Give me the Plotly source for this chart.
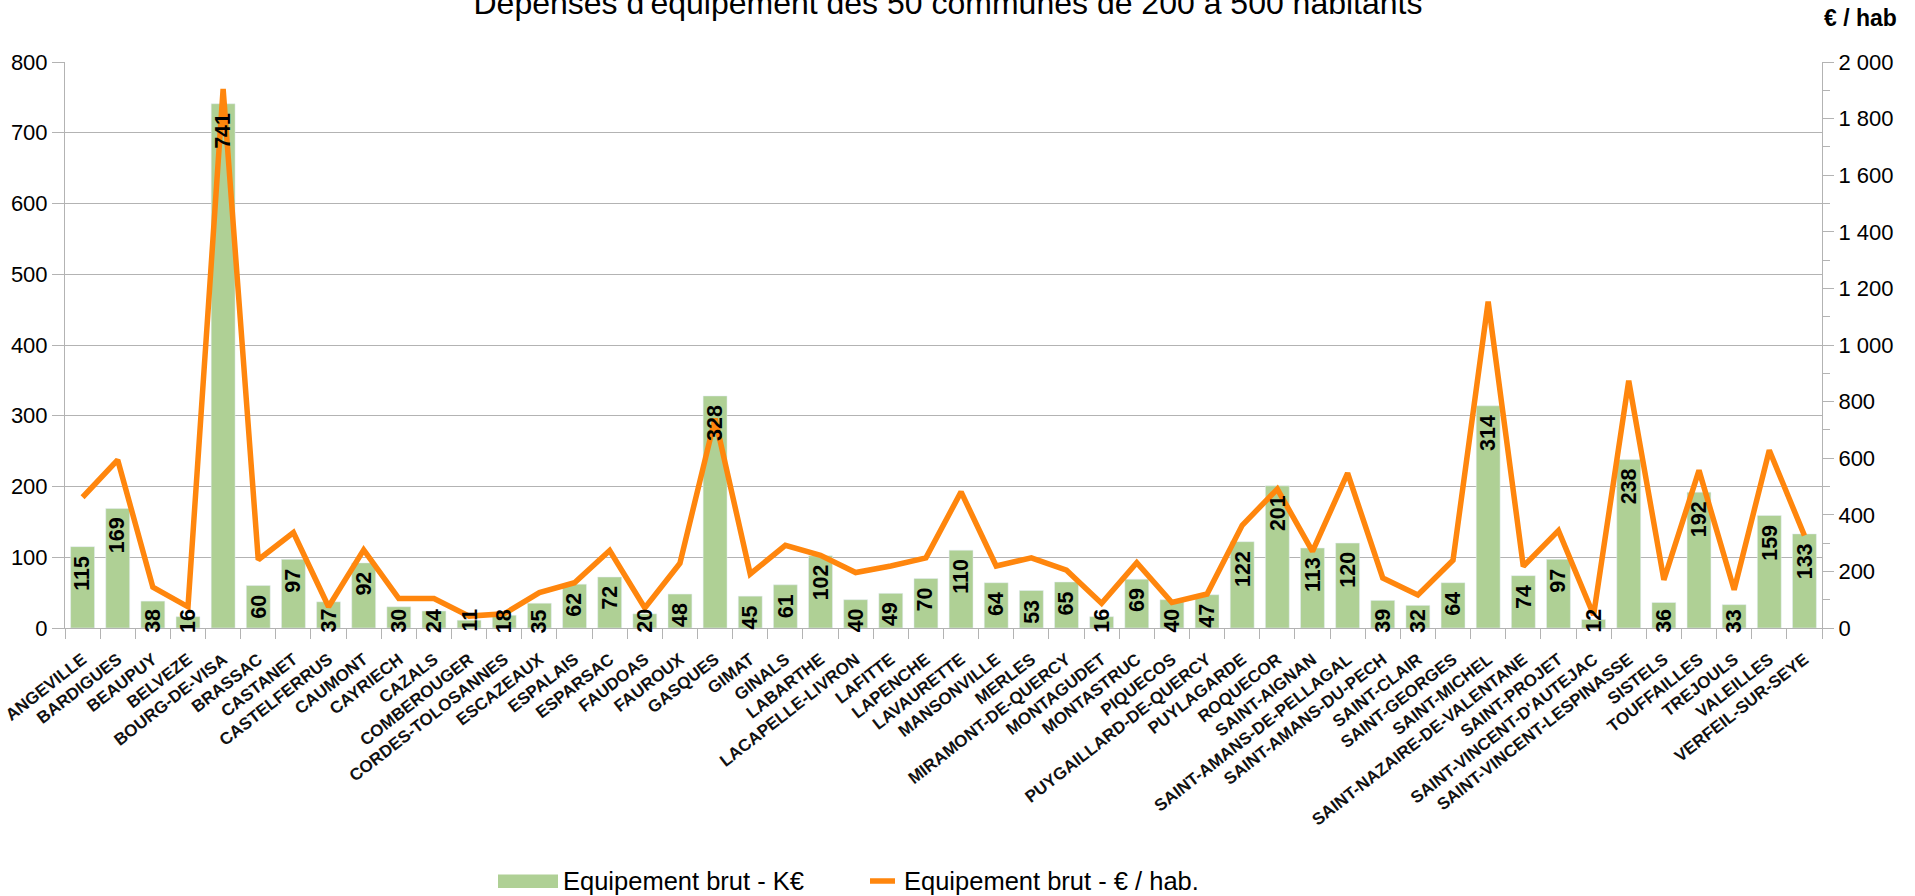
import plotly.graph_objects as go

communes = ["ANGEVILLE", "BARDIGUES", "BEAUPUY", "BELVEZE", "BOURG-DE-VISA", "BRASSAC", "CASTANET",
            "CASTELFERRUS", "CAUMONT", "CAYRIECH", "CAZALS", "COMBEROUGER", "CORDES-TOLOSANNES",
            "ESCAZEAUX", "ESPALAIS", "ESPARSAC", "FAUDOAS", "FAUROUX", "GASQUES", "GIMAT", "GINALS",
            "LABARTHE", "LACAPELLE-LIVRON", "LAFITTE", "LAPENCHE", "LAVAURETTE", "MANSONVILLE",
            "MERLES", "MIRAMONT-DE-QUERCY", "MONTAGUDET", "MONTASTRUC", "PIQUECOS",
            "PUYGAILLARD-DE-QUERCY", "PUYLAGARDE", "ROQUECOR", "SAINT-AIGNAN",
            "SAINT-AMANS-DE-PELLAGAL", "SAINT-AMANS-DU-PECH", "SAINT-CLAIR", "SAINT-GEORGES",
            "SAINT-MICHEL", "SAINT-NAZAIRE-DE-VALENTANE", "SAINT-PROJET", "SAINT-VINCENT-D'AUTEJAC",
            "SAINT-VINCENT-LESPINASSE", "SISTELS", "TOUFFAILLES", "TREJOULS", "VALEILLES",
            "VERFEIL-SUR-SEYE"]

equip_keur = [115, 169, 38, 16, 741, 60, 97, 37, 92, 30, 24, 11, 18, 35, 62, 72, 20, 48, 328, 45,
              61, 102, 40, 49, 70, 110, 64, 53, 65, 16, 69, 40, 47, 122, 201, 113, 120, 39, 32, 64,
              314, 74, 97, 12, 238, 36, 192, 33, 159, 133]

equip_hab = [462, 594, 144, 75, 1905, 241, 337, 75, 276, 104, 104, 42, 50, 125, 160, 274, 71, 229,
             740, 191, 292, 257, 196, 219, 248, 481, 219, 248, 204, 87, 231, 90, 120, 363, 491, 271,
             547, 177, 117, 240, 1153, 218, 344, 46, 874, 170, 557, 135, 628, 327]

left_ticks = [0, 100, 200, 300, 400, 500, 600, 700, 800]
right_ticks = [0, 200, 400, 600, 800, 1000, 1200, 1400, 1600, 1800, 2000]
right_tick_text = ["0", "200", "400", "600", "800", "1 000", "1 200", "1 400", "1 600", "1 800", "2 000"]

title_text = "Dépenses d'équipement des 50 communes de 200 à 500 habitants"
right_axis_title = "€ / hab"
legend_bar = "Equipement brut - K€"
legend_line = "Equipement brut - € / hab."

BAR_COLOR = "#AFD095"
LINE_COLOR = "#FF860D"
GRID = "#B3B3B3"
FONT = "Liberation Sans"

W, H = 1915, 896
ML, MR, MT, MB = 65, 93, 62, 268
PW = W - ML - MR
PH = H - MT - MB


def px_x(px):
    return (px - ML) / PW


def px_y(py):
    return (H - MB - py) / PH


fig = go.Figure()
fig.add_trace(go.Bar(x=communes, y=equip_keur, marker_color=BAR_COLOR, name=legend_bar,
                     showlegend=False, yaxis="y"))
fig.add_trace(go.Scatter(x=communes, y=equip_hab, mode="lines", name=legend_line,
                         line=dict(color=LINE_COLOR, width=5.5), showlegend=False, yaxis="y2"))

annotations = []
units_per_px = 800 / PH
for c, v in zip(communes, equip_keur):
    ytop = max(v - 7 * units_per_px, 21 * units_per_px)
    annotations.append(dict(x=c, y=ytop, xref="x", yref="y", text=str(v), textangle=-90,
                            showarrow=False, yanchor="top", xanchor="center",
                            font=dict(family=FONT, size=21.5, color="black", weight="bold")))

annotations.append(dict(x=px_x(1860), y=px_y(18), xref="paper", yref="paper", text=right_axis_title,
                        showarrow=False, xanchor="center", yanchor="middle",
                        font=dict(family=FONT, size=23, color="black", weight="bold")))

annotations.append(dict(x=px_x(561), y=px_y(881), xref="paper", yref="paper", text=legend_bar,
                        showarrow=False, xanchor="left", yanchor="middle",
                        font=dict(family=FONT, size=25.5, color="black")))
annotations.append(dict(x=px_x(902), y=px_y(881), xref="paper", yref="paper", text=legend_line,
                        showarrow=False, xanchor="left", yanchor="middle",
                        font=dict(family=FONT, size=25.5, color="black")))

shapes = [
    dict(type="rect", xref="paper", yref="paper", x0=px_x(498), x1=px_x(558), y0=px_y(888),
         y1=px_y(874.5), fillcolor=BAR_COLOR, line=dict(width=0)),
    dict(type="line", xref="paper", yref="paper", x0=px_x(870), x1=px_x(895), y0=px_y(881),
         y1=px_y(881), line=dict(color=LINE_COLOR, width=5.5)),
]

fig.update_layout(
    width=W, height=H,
    margin=dict(l=ML, r=MR, t=MT, b=MB, pad=0, autoexpand=False),
    paper_bgcolor="white", plot_bgcolor="white",
    font=dict(family=FONT, color="black"),
    title=dict(text=title_text, xref="container", x=948 / W, xanchor="center",
               yref="container", y=1 - 14 / H, yanchor="bottom",
               font=dict(family=FONT, size=32, color="black")),
    bargap=0.32,
    showlegend=False,
    annotations=annotations,
    shapes=shapes,
    xaxis=dict(type="category", tickangle=-38, automargin=False, ticklabelstandoff=14,
               tickfont=dict(family=FONT, size=17, color="#111111", weight="bold"),
               showline=True, linecolor=GRID, linewidth=1, ticks="outside", tickson="boundaries",
               ticklen=10, tickcolor=GRID, showgrid=False, zeroline=False),
    yaxis=dict(range=[0, 800], tickvals=left_ticks, showgrid=True, gridcolor=GRID, gridwidth=1,
               automargin=False,
               showline=True, linecolor=GRID, ticks="outside", ticklen=12, tickcolor=GRID,
               tickfont=dict(family=FONT, size=22, color="black"), zeroline=False),
    yaxis2=dict(range=[0, 2000], overlaying="y", side="right", tickvals=right_ticks,
                automargin=False,
                ticktext=right_tick_text, showgrid=False, showline=True, linecolor=GRID,
                ticks="outside", ticklen=11, tickcolor=GRID,
                minor=dict(dtick=100, ticks="outside", ticklen=7, tickcolor=GRID, showgrid=False),
                tickfont=dict(family=FONT, size=22, color="black"), zeroline=False),
)

fig.write_html("out.html", config={"displayModeBar": False},
               post_script="document.body.style.margin='0';")
